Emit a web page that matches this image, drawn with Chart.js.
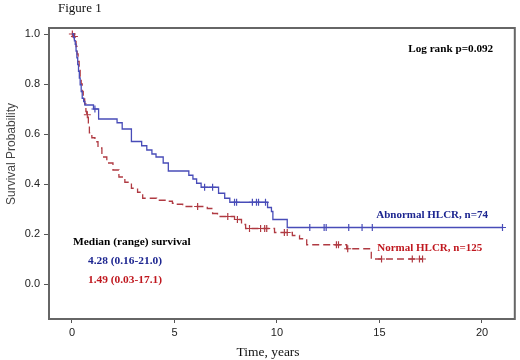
<!DOCTYPE html>
<html>
<head>
<meta charset="utf-8">
<script src="https://cdn.jsdelivr.net/npm/chart.js@4.4.0/dist/chart.umd.min.js"></script>
<style>
  body { margin: 0; background: #fff; }
  #km { display: block; }
</style>
</head>
<body>
<canvas id="km" width="520" height="360"></canvas>
<script>
// Kaplan-Meier steps: time (years) and survival after that time
var abnTime = [0, 0.08, 0.12, 0.16, 0.2, 0.24, 0.28, 0.32, 0.36, 0.4, 0.45, 0.5, 0.57, 0.63,
  1.05, 1.3, 2.2, 2.45, 2.9, 3.4, 3.65, 3.9, 4.1, 4.45, 4.7, 5.7, 5.9, 6.08, 6.3,
  7.15, 7.45, 7.7, 9.54, 9.73, 9.8, 10.5];
var abnSurv = [1.0, 0.986, 0.973, 0.959, 0.932, 0.905, 0.878, 0.851, 0.824, 0.797, 0.77, 0.743, 0.73, 0.716,
  0.70, 0.66, 0.645, 0.62, 0.57, 0.553, 0.536, 0.52, 0.508, 0.484, 0.452, 0.435, 0.42, 0.403, 0.387,
  0.363, 0.343, 0.327, 0.306, 0.29, 0.258, 0.226];
var abnCensor = [1.12, 6.47, 6.86, 7.93, 8.03, 8.8, 9.0, 9.1, 9.44, 11.6, 12.3, 12.4, 13.5, 14.15, 14.65, 21.0];

var norTime = [0, 0.1, 0.15, 0.2, 0.25, 0.3, 0.35, 0.4, 0.45, 0.5, 0.55, 0.62, 0.68, 0.72,
  0.8, 0.85, 0.97, 1.12, 1.27, 1.46, 1.7, 2.0, 2.29, 2.58, 2.9, 3.2, 3.45, 4.13, 4.6, 4.9,
  5.1, 5.4, 6.6, 6.86, 7.1, 7.93, 8.27, 8.47, 9.88, 10.75, 11.1, 11.45, 13.4, 14.6];
var norSurv = [1.0, 0.99, 0.97, 0.95, 0.92, 0.89, 0.86, 0.83, 0.80, 0.77, 0.745, 0.72, 0.69, 0.677,
  0.64, 0.605, 0.585, 0.569, 0.544, 0.508, 0.484, 0.456, 0.428, 0.407, 0.383, 0.367, 0.343, 0.335, 0.331, 0.323,
  0.319, 0.31, 0.302, 0.282, 0.27, 0.258, 0.238, 0.222, 0.206, 0.194, 0.181, 0.157, 0.141, 0.10];
var norCensor = [0.02, 0.12, 0.75, 6.13, 7.6, 8.07, 8.66, 9.2, 9.4, 9.5, 10.36, 10.5, 12.9, 13.0, 13.45,
  15.1, 16.6, 16.95, 17.1];

var xTicks = [0, 5, 10, 15, 20];
var yTicks = [0, 0.2, 0.4, 0.6, 0.8, 1.0];

var blue = 'rgb(72, 76, 184)';
var red = 'rgb(176, 58, 66)';

function survAt(times, surv, t) {
  var s = surv[0];
  for (var i = 0; i < times.length; i++) {
    if (times[i] <= t) s = surv[i];
  }
  return s;
}

function curve(times, surv, censor) {
  var pts = times.map(function (t, i) { return { x: t, y: surv[i] }; });
  var last = censor[censor.length - 1];
  pts.push({ x: last, y: survAt(times, surv, last) });
  return pts;
}

function marks(times, surv, censor) {
  return censor.map(function (t) { return { x: t, y: survAt(times, surv, t) }; });
}

// text drawn on the canvas (titles and notes)
var notes = [
  { text: 'Log rank p=0.092', x: 16.4, y: 0.94, color: '#000', size: 11.2 },
  { text: 'Abnormal HLCR, n=74', x: 14.84, y: 0.274, color: '#1c2590', size: 11 },
  { text: 'Normal HLCR, n=125', x: 14.89, y: 0.145, color: '#c0181f', size: 11 },
  { text: 'Median (range) survival', x: 0.05, y: 0.169, color: '#000', size: 11.4 },
  { text: '4.28 (0.16-21.0)', x: 0.78, y: 0.093, color: '#1c2590', size: 11.4 },
  { text: '1.49 (0.03-17.1)', x: 0.78, y: 0.016, color: '#c0181f', size: 11.4 }
];

var textPlugin = {
  id: 'textPlugin',
  afterDraw: function (chart) {
    var c = chart.ctx, a = chart.chartArea;
    var xs = chart.scales.x, ys = chart.scales.y;
    c.save();
    // box round the plot
    c.strokeStyle = '#666';
    c.lineWidth = 2;
    c.strokeRect(a.left, a.top, a.right - a.left, a.bottom - a.top);

    c.textBaseline = 'middle';
    c.textAlign = 'left';
    notes.forEach(function (n) {
      c.font = 'bold ' + n.size + 'px "Liberation Serif"';
      c.fillStyle = n.color;
      c.fillText(n.text, xs.getPixelForValue(n.x), ys.getPixelForValue(n.y));
    });

    c.fillStyle = '#111';
    c.font = '13px "Liberation Serif"';
    c.fillText('Figure 1', 58, 9);

    c.textAlign = 'center';
    c.font = '13.5px "Liberation Serif"';
    c.fillText('Time, years', 268, 352);

    c.fillStyle = '#444';
    c.font = '12px "Liberation Sans"';
    c.translate(12, 154);
    c.rotate(-Math.PI / 2);
    c.fillText('Survival Probability', 0, 0);
    c.restore();
  }
};

var ctx = document.getElementById('km').getContext('2d');
var kmChart = new Chart(ctx, {
  type: 'scatter',
  data: {
    datasets: [
      {
        label: 'Abnormal HLCR',
        data: curve(abnTime, abnSurv, abnCensor),
        showLine: true,
        stepped: true,
        borderColor: blue,
        borderWidth: 1.3,
        pointRadius: 0
      },
      {
        label: 'Abnormal censored',
        data: marks(abnTime, abnSurv, abnCensor),
        pointStyle: 'cross',
        pointRadius: 3.5,
        borderColor: blue,
        borderWidth: 1.2
      },
      {
        label: 'Normal HLCR',
        data: curve(norTime, norSurv, norCensor),
        showLine: true,
        stepped: true,
        borderColor: red,
        borderWidth: 1.3,
        borderDash: [7, 4],
        pointRadius: 0
      },
      {
        label: 'Normal censored',
        data: marks(norTime, norSurv, norCensor),
        pointStyle: 'cross',
        pointRadius: 3.5,
        borderColor: red,
        borderWidth: 1.2
      }
    ]
  },
  options: {
    responsive: false,
    animation: false,
    layout: { padding: { top: 28, right: 3, left: 0, bottom: 0 } },
    plugins: {
      legend: { display: false },
      tooltip: { enabled: false }
    },
    scales: {
      x: {
        type: 'linear',
        min: -1.12,
        max: 21.6,
        afterBuildTicks: function (s) { s.ticks = xTicks.map(function (v) { return { value: v }; }); },
        afterFit: function (s) { s.height = 41; },
        ticks: { color: '#222', padding: 3, font: { family: 'Liberation Sans', size: 11 } },
        grid: { drawOnChartArea: false, tickLength: 4, color: '#555' },
        border: { color: '#666', width: 2 }
      },
      y: {
        min: -0.14,
        max: 1.024,
        afterBuildTicks: function (s) { s.ticks = yTicks.map(function (v) { return { value: v }; }); },
        afterFit: function (s) { s.width = 49; },
        ticks: {
          color: '#222',
          padding: 4,
          font: { family: 'Liberation Sans', size: 11 },
          callback: function (v) { return v.toFixed(1); }
        },
        grid: { drawOnChartArea: false, tickLength: 5, color: '#555' },
        border: { color: '#666', width: 2 }
      }
    }
  },
  plugins: [textPlugin]
});
</script>
</body>
</html>
